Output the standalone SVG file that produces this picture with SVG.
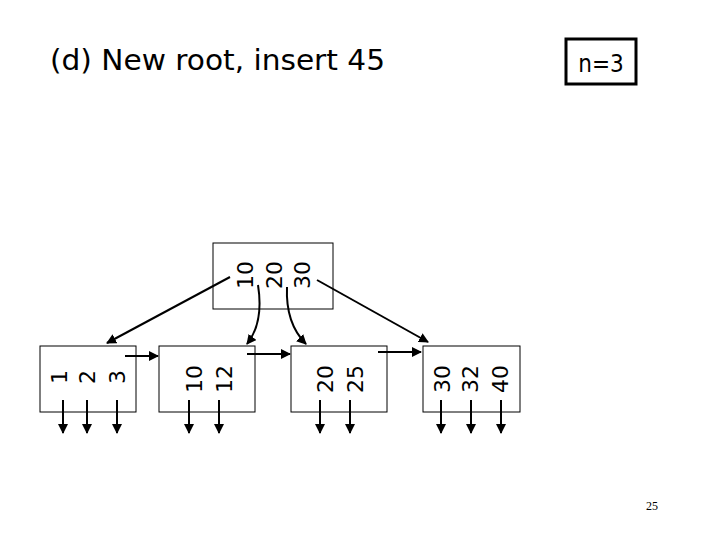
<svg xmlns="http://www.w3.org/2000/svg" width="720" height="540" viewBox="0 0 720 540">
<defs>
<marker id="a" viewBox="0 0 10 10" refX="9" refY="5" markerWidth="5" markerHeight="5" orient="auto"><path d="M0,0L10,5L0,10z" fill="#000"/></marker>
<style>
.b{fill:#fff;stroke:#000;stroke-width:1}
.k{font-family:"DejaVu Sans",sans-serif;font-size:22px;text-anchor:middle}
.c{fill:none;stroke:#000;stroke-width:2;marker-end:url(#a)}
</style>
</defs>
<rect width="720" height="540" fill="#fff"/>
<text x="50" y="70" font-family="'DejaVu Sans Condensed','DejaVu Sans',sans-serif" font-size="28" textLength="335" lengthAdjust="spacingAndGlyphs">(d) New root,  insert 45</text>
<rect x="566" y="39" width="70" height="45" fill="none" stroke="#000" stroke-width="3"/>
<text x="601" y="72" font-family="'DejaVu Sans Condensed','DejaVu Sans',sans-serif" font-size="24" text-anchor="middle">n=3</text>
<text x="652" y="510" font-family="'Liberation Serif',serif" font-size="12" text-anchor="middle">25</text>
<g id="root"><rect class="b" x="213" y="243" width="120" height="66"/>
<text class="k" transform="translate(253,275) rotate(-90)">10</text>
<text class="k" transform="translate(282,275) rotate(-90)">20</text>
<text class="k" transform="translate(310,275) rotate(-90)">30</text></g>
<g id="leaf1"><rect class="b" x="40" y="346" width="96" height="66"/>
<text class="k" transform="translate(67,377) rotate(-90)">1</text>
<text class="k" transform="translate(95,377) rotate(-90)">2</text>
<text class="k" transform="translate(125,377) rotate(-90)">3</text></g>
<g id="leaf2"><rect class="b" x="159" y="346" width="96" height="66"/>
<text class="k" transform="translate(202,379) rotate(-90)">10</text>
<text class="k" transform="translate(232,379) rotate(-90)">12</text></g>
<g id="leaf3"><rect class="b" x="291" y="346" width="96" height="66"/>
<text class="k" transform="translate(333,379) rotate(-90)">20</text>
<text class="k" transform="translate(363,379) rotate(-90)">25</text></g>
<g id="leaf4"><rect class="b" x="423" y="346" width="97" height="66"/>
<text class="k" transform="translate(450,379) rotate(-90)">30</text>
<text class="k" transform="translate(478,379) rotate(-90)">32</text>
<text class="k" transform="translate(508,379) rotate(-90)">40</text></g>
<g id="connectors">
<path class="c" d="M230,277L107,343"/>
<path class="c" d="M258,285C262,310 258,330 247,344"/>
<path class="c" d="M287,287C286,310 292,330 306,344"/>
<path class="c" d="M317,280L428,342"/>
<path class="c" d="M125,356L158,356"/>
<path class="c" d="M247,354L290,354"/>
<path class="c" d="M378,352L421,352"/>
<path class="c" d="M63,400V433"/><path class="c" d="M87,400V433"/><path class="c" d="M117,400V433"/>
<path class="c" d="M189,400V433"/><path class="c" d="M219,400V433"/>
<path class="c" d="M320,400V433"/><path class="c" d="M350,400V433"/>
<path class="c" d="M441,400V433"/><path class="c" d="M471,400V433"/><path class="c" d="M501,400V433"/>
</g>
</svg>
